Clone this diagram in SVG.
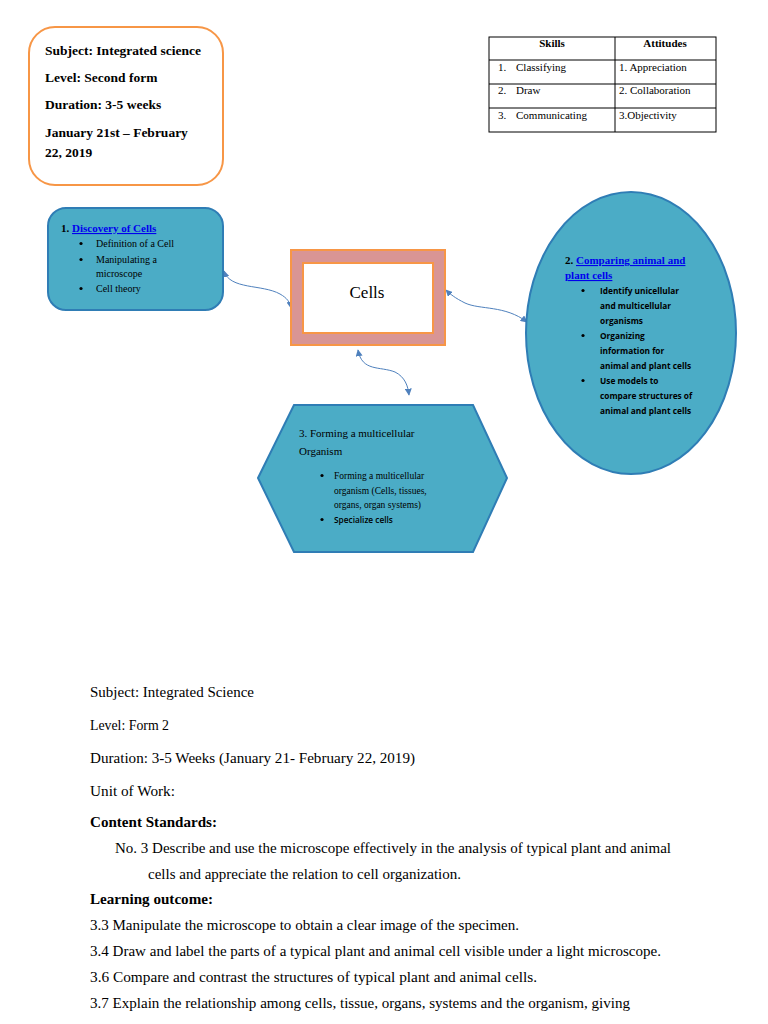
<svg xmlns="http://www.w3.org/2000/svg" width="768" height="1024" viewBox="0 0 768 1024">
<defs>
<style>
.serif{font-family:"Liberation Serif","Times New Roman",serif;fill:#000}
.sans{font-family:"Open Sans","Liberation Sans",sans-serif;fill:#000;font-weight:bold}
.b{font-weight:bold}
.link{fill:#0000EE;text-decoration:underline;font-weight:bold}
.node{fill:#4BACC6;stroke:#2F7DB5;stroke-width:2}
.conn{fill:none;stroke:#4F81BD;stroke-width:1}
.tbl{fill:none;stroke:#000;stroke-width:1}
</style>
<marker id="ah" viewBox="0 0 10 10" refX="9" refY="5" markerWidth="7" markerHeight="7" orient="auto-start-reverse" markerUnits="userSpaceOnUse">
<path d="M0,0 L10,5 L0,10 z" fill="#4F81BD"/>
</marker>
</defs>
<rect width="768" height="1024" fill="#fff"/>

<g id="info-box">
<rect x="29" y="27" width="194" height="158" rx="26" fill="#fff" stroke="#F79646" stroke-width="2"/>
<text class="serif b" font-size="13.5" x="45" y="55">Subject: Integrated science</text>
<text class="serif b" font-size="13.5" x="45" y="82">Level: Second form</text>
<text class="serif b" font-size="13.5" x="45" y="109">Duration: 3-5 weeks</text>
<text class="serif b" font-size="13.5" x="45" y="137">January 21st – February</text>
<text class="serif b" font-size="13.5" x="45" y="157">22, 2019</text>
</g>

<g id="skills-table">
<rect class="tbl" x="489" y="37" width="227" height="95"/>
<line class="tbl" x1="615" y1="37" x2="615" y2="132"/>
<line class="tbl" x1="489" y1="60" x2="716" y2="60"/>
<line class="tbl" x1="489" y1="84" x2="716" y2="84"/>
<line class="tbl" x1="489" y1="108" x2="716" y2="108"/>
<text class="serif b" font-size="11" x="552" y="47" text-anchor="middle">Skills</text>
<text class="serif b" font-size="11" x="665" y="47" text-anchor="middle">Attitudes</text>
<text class="serif" font-size="11" x="498" y="71">1.</text>
<text class="serif" font-size="11" x="516" y="71">Classifying</text>
<text class="serif" font-size="11" x="498" y="94">2.</text>
<text class="serif" font-size="11" x="516" y="94">Draw</text>
<text class="serif" font-size="11" x="498" y="119">3.</text>
<text class="serif" font-size="11" x="516" y="119">Communicating</text>
<text class="serif" font-size="11" x="619" y="71">1. Appreciation</text>
<text class="serif" font-size="11" x="619" y="94">2. Collaboration</text>
<text class="serif" font-size="11" x="619" y="119">3.Objectivity</text>
</g>

<g id="connectors">
<path class="conn" d="M224,271 C230,290 262,284 280,294 C287,298 290,302 291,308" marker-start="url(#ah)" marker-end="url(#ah)"/>
<path class="conn" d="M527,322 C505,305 480,310 465,303 C455,298 450,294 446,290" marker-start="url(#ah)" marker-end="url(#ah)"/>
<path class="conn" d="M358,350 C362,372 380,366 395,372 C405,377 408,386 409,395" marker-start="url(#ah)" marker-end="url(#ah)"/>
</g>

<g id="node-discovery">
<rect class="node" x="48" y="208" width="175" height="102" rx="18"/>
<text class="serif" font-size="11" x="61" y="232"><tspan font-weight="bold">1. </tspan><tspan class="link">Discovery of Cells</tspan></text>
<circle cx="81" cy="243.5" r="1.6" fill="#000"/>
<circle cx="81" cy="259.5" r="1.6" fill="#000"/>
<circle cx="81" cy="288.5" r="1.6" fill="#000"/>
<text class="serif" font-size="10" x="96" y="247">Definition of a Cell</text>
<text class="serif" font-size="10" x="96" y="263">Manipulating a</text>
<text class="serif" font-size="10" x="96" y="277">microscope</text>
<text class="serif" font-size="10" x="96" y="292">Cell theory</text>
</g>

<g id="node-cells">
<rect x="291" y="250" width="154" height="95" fill="#D99594" stroke="#F79646" stroke-width="2"/>
<rect x="303" y="263" width="130" height="70" fill="#fff" stroke="#F79646" stroke-width="2"/>
<text class="serif" font-size="17" x="367" y="298" text-anchor="middle">Cells</text>
</g>

<g id="node-comparing">
<ellipse class="node" cx="631" cy="333" rx="105" ry="141"/>
<text class="serif" font-size="11" x="565" y="264"><tspan font-weight="bold">2. </tspan><tspan class="link">Comparing animal and</tspan></text>
<text class="serif link" font-size="11" x="565" y="279">plant cells</text>
<circle cx="583" cy="290.5" r="1.6" fill="#000"/>
<circle cx="583" cy="335.5" r="1.6" fill="#000"/>
<circle cx="583" cy="380.5" r="1.6" fill="#000"/>
<text class="sans" font-size="8.3" x="600" y="294">Identify  unicellular</text>
<text class="sans" font-size="8.3" x="600" y="309">and multicellular</text>
<text class="sans" font-size="8.3" x="600" y="324">organisms</text>
<text class="sans" font-size="8.3" x="600" y="339">Organizing</text>
<text class="sans" font-size="8.3" x="600" y="354">information for</text>
<text class="sans" font-size="8.3" x="600" y="369">animal and plant cells</text>
<text class="sans" font-size="8.3" x="600" y="384">Use models to</text>
<text class="sans" font-size="8.3" x="600" y="399">compare structures of</text>
<text class="sans" font-size="8.3" x="600" y="414">animal and plant cells</text>
</g>

<g id="node-forming">
<polygon class="node" points="258,478 294,405 473,405 507,478 473,552 294,552"/>
<text class="serif" font-size="11" x="299" y="437">3. Forming a multicellular</text>
<text class="serif" font-size="11" x="299" y="455">Organism</text>
<circle cx="322" cy="475.5" r="1.6" fill="#000"/>
<circle cx="322" cy="519.5" r="1.6" fill="#000"/>
<text class="serif" font-size="9.5" x="334" y="479">Forming a multicellular</text>
<text class="serif" font-size="9.5" x="334" y="494">organism (Cells, tissues,</text>
<text class="serif" font-size="9.5" x="334" y="508">organs, organ systems)</text>
<text class="sans" font-size="8.3" x="334" y="523" style="font-weight:600">Specialize cells</text>
</g>

<g id="document-text">
<text class="serif" font-size="15" x="90" y="697" textLength="164" lengthAdjust="spacingAndGlyphs">Subject: Integrated Science</text>
<text class="serif" font-size="15" x="90" y="730" textLength="79" lengthAdjust="spacingAndGlyphs">Level: Form 2</text>
<text class="serif" font-size="15" x="90" y="763" textLength="325" lengthAdjust="spacingAndGlyphs">Duration: 3-5 Weeks (January 21- February 22, 2019)</text>
<text class="serif" font-size="15" x="90" y="796" textLength="85" lengthAdjust="spacingAndGlyphs">Unit of Work:</text>
<text class="serif b" font-size="15" x="90" y="827" textLength="127" lengthAdjust="spacingAndGlyphs">Content Standards:</text>
<text class="serif" font-size="15" x="115" y="853" textLength="556" lengthAdjust="spacingAndGlyphs">No. 3 Describe and use the microscope effectively in the analysis of typical plant and animal</text>
<text class="serif" font-size="15" x="148" y="879" textLength="313" lengthAdjust="spacingAndGlyphs">cells and appreciate the relation to cell organization.</text>
<text class="serif b" font-size="15" x="90" y="904" textLength="123" lengthAdjust="spacingAndGlyphs">Learning outcome:</text>
<text class="serif" font-size="15" x="90" y="930" textLength="429" lengthAdjust="spacingAndGlyphs">3.3 Manipulate the microscope to obtain a clear image of the specimen.</text>
<text class="serif" font-size="15" x="90" y="956" textLength="571" lengthAdjust="spacingAndGlyphs">3.4 Draw and label the parts of a typical plant and animal cell visible under a light microscope.</text>
<text class="serif" font-size="15" x="90" y="982" textLength="447" lengthAdjust="spacingAndGlyphs">3.6 Compare and contrast the structures of typical plant and animal cells.</text>
<text class="serif" font-size="15" x="90" y="1008" textLength="540" lengthAdjust="spacingAndGlyphs">3.7 Explain the relationship among cells, tissue, organs, systems and the organism, giving</text>
</g>
</svg>
